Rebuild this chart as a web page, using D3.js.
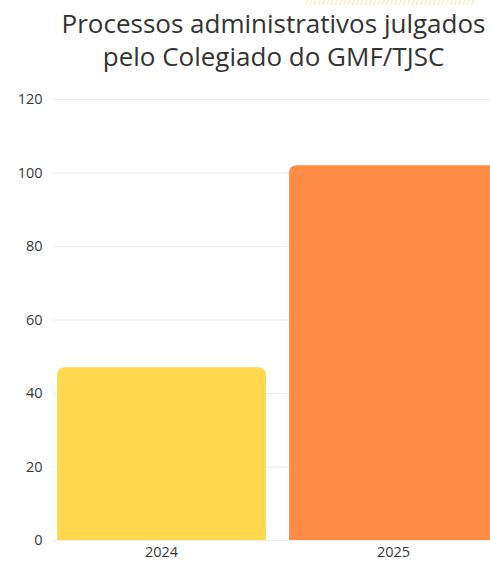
<!DOCTYPE html>
<html>
<head>
<meta charset="utf-8">
<script src="https://cdn.jsdelivr.net/npm/d3@7"></script>
<style>
html,body{margin:0;padding:0;background:#fff;overflow:hidden;}
svg{display:block;}
</style>
</head>
<body>
<svg id="chart" width="490" height="564"></svg>
<script>
const categories = ["2024", "2025"];
const values = [47, 102];
const colors = ["#FFD84F", "#FF8C45"];
const yTicks = [0, 20, 40, 60, 80, 100, 120];
const titleLines = ["Processos administrativos julgados", "pelo Colegiado do GMF/TJSC"];

const svg = d3.select("#chart");
const W = 490, H = 564;
const m = {left: 45.5, right: -19.5, top: 99, bottom: 24};

// faint striped decoration at top
const defs = svg.append("defs");
const pat = defs.append("pattern").attr("id","stripes").attr("width",4).attr("height",6)
  .attr("patternUnits","userSpaceOnUse").attr("patternTransform","rotate(20)");
pat.append("rect").attr("width",1.6).attr("height",6).attr("fill","#f3efc8");
svg.append("rect").attr("x",305).attr("y",0).attr("width",170).attr("height",5).attr("fill","url(#stripes)");

const x = d3.scaleBand().domain(categories).range([m.left, W - m.right]).paddingInner(0.1).paddingOuter(0.05);
const y = d3.scaleLinear().domain([0, 120]).range([540, 99]);

// title
svg.append("g").selectAll("text").data(titleLines).join("text")
  .attr("x", 273.5).attr("y", (d,i) => 33 + i*33)
  .attr("text-anchor","middle")
  .attr("font-family","'Open Sans', sans-serif")
  .attr("font-size", 26)
  .attr("fill","#333")
  .text(d => d);

// grid
const yAxis = d3.axisLeft(y).tickValues(yTicks).tickSize(-(W + 10 - m.left - 7)).tickPadding(10);
const gy = svg.append("g").attr("transform",`translate(${m.left + 7},0)`).call(yAxis);
gy.select(".domain").remove();
gy.selectAll(".tick line").attr("stroke","#ececec").attr("stroke-width",1);
gy.selectAll(".tick text").attr("font-family","'Open Sans', sans-serif").attr("font-size",14.5).attr("fill","#3a3a3a");

// bars with rounded top corners
const r = 8;
function barPath(x0, y0, w, h){
  const rr = Math.min(r, h, w/2);
  return `M${x0},${y0+h}V${y0+rr}Q${x0},${y0} ${x0+rr},${y0}H${x0+w-rr}Q${x0+w},${y0} ${x0+w},${y0+rr}V${y0+h}Z`;
}
svg.append("g").selectAll("path").data(values).join("path")
  .attr("d",(d,i) => barPath(x(categories[i]), y(d), x.bandwidth(), y(0) - y(d)))
  .attr("fill",(d,i) => colors[i]);

// x axis
const xAxis = d3.axisBottom(x).tickSize(0).tickPadding(7);
const gx = svg.append("g").attr("transform",`translate(0,${y(0)})`).call(xAxis);
gx.select(".domain").remove();
gx.selectAll(".tick text").attr("font-family","'Open Sans', sans-serif").attr("font-size",14.5).attr("fill","#3a3a3a");
</script>
</body>
</html>
